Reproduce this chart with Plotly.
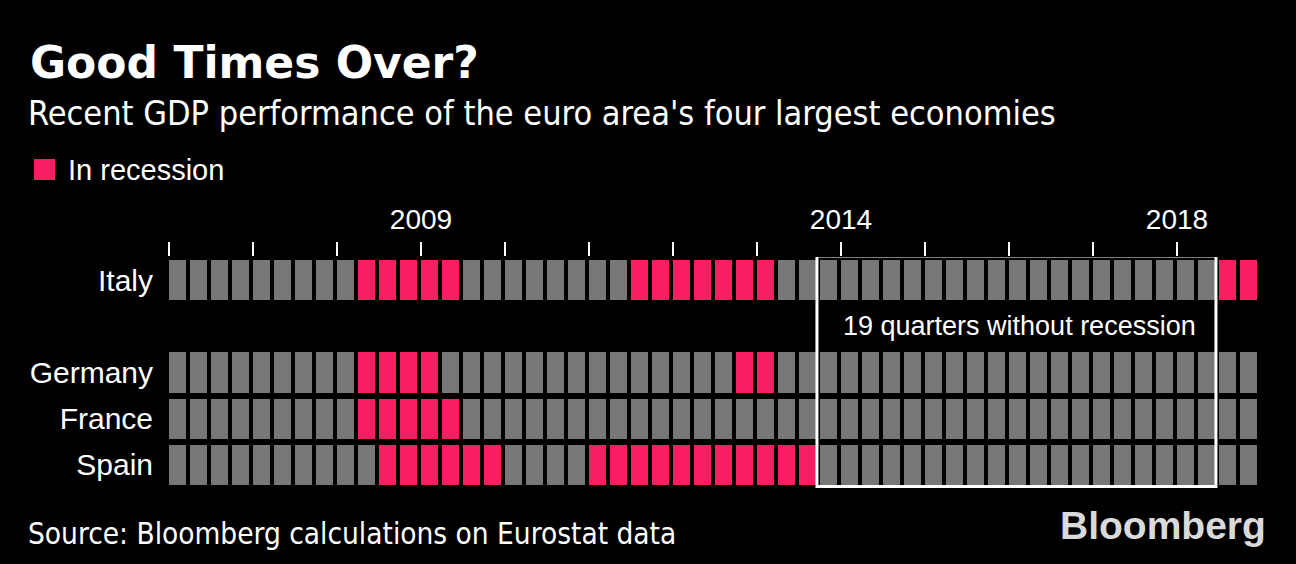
import plotly.graph_objects as go

# ---- data ----
countries = ["Italy", "Germany", "France", "Spain"]
start_year = 2006
quarters = [f"{start_year + q // 4} Q{q % 4 + 1}" for q in range(52)]
year_labels = ["2009", "2014", "2018"]

# 1 = in recession, 0 = not (2006 Q1 .. 2018 Q4)
italy = [0,0,0,0, 0,0,0,0, 0,1,1,1, 1,1,0,0, 0,0,0,0, 0,0,1,1,
         1,1,1,1, 1,0,0,0, 0,0,0,0, 0,0,0,0, 0,0,0,0, 0,0,0,0, 0,0,1,1]
germany = [0,0,0,0, 0,0,0,0, 0,1,1,1, 1,0,0,0, 0,0,0,0, 0,0,0,0,
           0,0,0,1, 1,0,0,0, 0,0,0,0, 0,0,0,0, 0,0,0,0, 0,0,0,0, 0,0,0,0]
france = [0,0,0,0, 0,0,0,0, 0,1,1,1, 1,1,0,0, 0,0,0,0, 0,0,0,0,
          0,0,0,0, 0,0,0,0, 0,0,0,0, 0,0,0,0, 0,0,0,0, 0,0,0,0, 0,0,0,0]
spain = [0,0,0,0, 0,0,0,0, 0,0,1,1, 1,1,1,1, 0,0,0,0, 1,1,1,1,
         1,1,1,1, 1,1,1,0, 0,0,0,0, 0,0,0,0, 0,0,0,0, 0,0,0,0, 0,0,0,0]

GREY = "#777777"
PINK = "#F71E62"
BG = "#000000"

# ---- layout geometry (pixels) ----
W, H = 1296, 564
L, R, T, B = 167, 1259, 257, 488


def px(x):
    return (x - L) / (R - L)


def py(y):
    return (B - y) / (B - T)


x_idx = list(range(len(quarters)))
rows = [italy, None, germany, france, spain]
z = [r if r is not None else [None] * len(quarters) for r in rows]
text = [[quarters[i] for i in x_idx] for _ in rows]

fig = go.Figure()
fig.add_trace(go.Heatmap(
    x=x_idx, y=[0, 1, 2, 3, 4], z=z,
    colorscale=[[0, GREY], [1, PINK]], zmin=0, zmax=1,
    showscale=False, xgap=4, ygap=6,
    text=text, hovertemplate="%{text}<extra></extra>",
))

# streak of quarters with no recession in any of the four (before latest recession)
any_rec = [max(c[i] for c in (italy, germany, france, spain)) for i in x_idx]
end = max(i for i in x_idx[:-1] if any_rec[i] == 0 and any_rec[i + 1] == 1)
start = end
while start - 1 >= 0 and any_rec[start - 1] == 0:
    start -= 1
n_quarters = end - start + 1

fig.add_shape(type="rect", xref="x", yref="y",
              x0=start - 0.55, x1=end + 0.45, y0=-0.52, y1=4.47,
              line=dict(color="white", width=3), fillcolor="rgba(0,0,0,0)", layer="above")
fig.add_annotation(xref="x", yref="y", x=(start + end) / 2 + 0.1, y=1,
                   text=f"{n_quarters} quarters without recession", showarrow=False,
                   font=dict(family="Liberation Sans, Arial", size=27, color="white"))

# year ticks
tickvals = [i - 0.405 for i in range(0, len(quarters), 4)]
ticktext = [str(start_year + i // 4) if str(start_year + i // 4) in year_labels else ""
            for i in range(0, len(quarters), 4)]

fig.update_xaxes(range=[-0.5, len(quarters) - 0.5], side="top", showgrid=False,
                 zeroline=False, showline=False, ticks="outside", ticklen=14,
                 tickwidth=1.5, tickcolor="white", tickvals=tickvals, ticktext=ticktext,
                 tickfont=dict(family="Liberation Sans, Arial", size=28, color="white"),
                 ticklabelstandoff=2)
fig.update_yaxes(range=[4.5, -0.5], showgrid=False, zeroline=False, showline=False,
                 tickvals=[0, 2, 3, 4], ticktext=countries, ticks="",
                 tickfont=dict(family="Liberation Sans, Arial", size=30, color="white"),
                 ticklabelstandoff=13)

# titles / legend / source
fig.add_annotation(xref="paper", yref="paper", x=px(28), y=py(62), xanchor="left",
                   yanchor="middle", showarrow=False, text="<b>Good Times Over?</b>",
                   font=dict(family="DejaVu Sans", size=44, color="white"))
fig.add_annotation(xref="paper", yref="paper", x=px(26), y=py(113), xanchor="left",
                   yanchor="middle", showarrow=False,
                   text="Recent GDP performance of the euro area's four largest economies",
                   font=dict(family="DejaVu Sans Condensed, DejaVu Sans", size=34, color="white"))
fig.add_shape(type="rect", xref="paper", yref="paper",
              x0=px(34), x1=px(55), y0=py(180), y1=py(159),
              fillcolor=PINK, line=dict(width=0))
fig.add_annotation(xref="paper", yref="paper", x=px(66), y=py(170), xanchor="left",
                   yanchor="middle", showarrow=False, text="In recession",
                   font=dict(family="Liberation Sans, Arial", size=29, color="white"))
fig.add_annotation(xref="paper", yref="paper", x=px(26), y=py(534), xanchor="left",
                   yanchor="middle", showarrow=False,
                   text="Source: Bloomberg calculations on Eurostat data",
                   font=dict(family="DejaVu Sans Condensed, DejaVu Sans", size=29.5, color="white"))
fig.add_annotation(xref="paper", yref="paper", x=px(1268), y=py(525), xanchor="right",
                   yanchor="middle", showarrow=False, text="<b>Bloomberg</b>",
                   font=dict(family="Liberation Sans, Arial", size=39, color="#DADADA"))

fig.update_layout(width=W, height=H, autosize=False,
                  margin=dict(l=L, r=W - R, t=T, b=H - B, pad=0),
                  paper_bgcolor=BG, plot_bgcolor=BG, showlegend=False)

fig.write_html("out.html", config={"displayModeBar": False},
               post_script="document.body.style.margin='0';"
                           "document.body.style.background='#000';")
